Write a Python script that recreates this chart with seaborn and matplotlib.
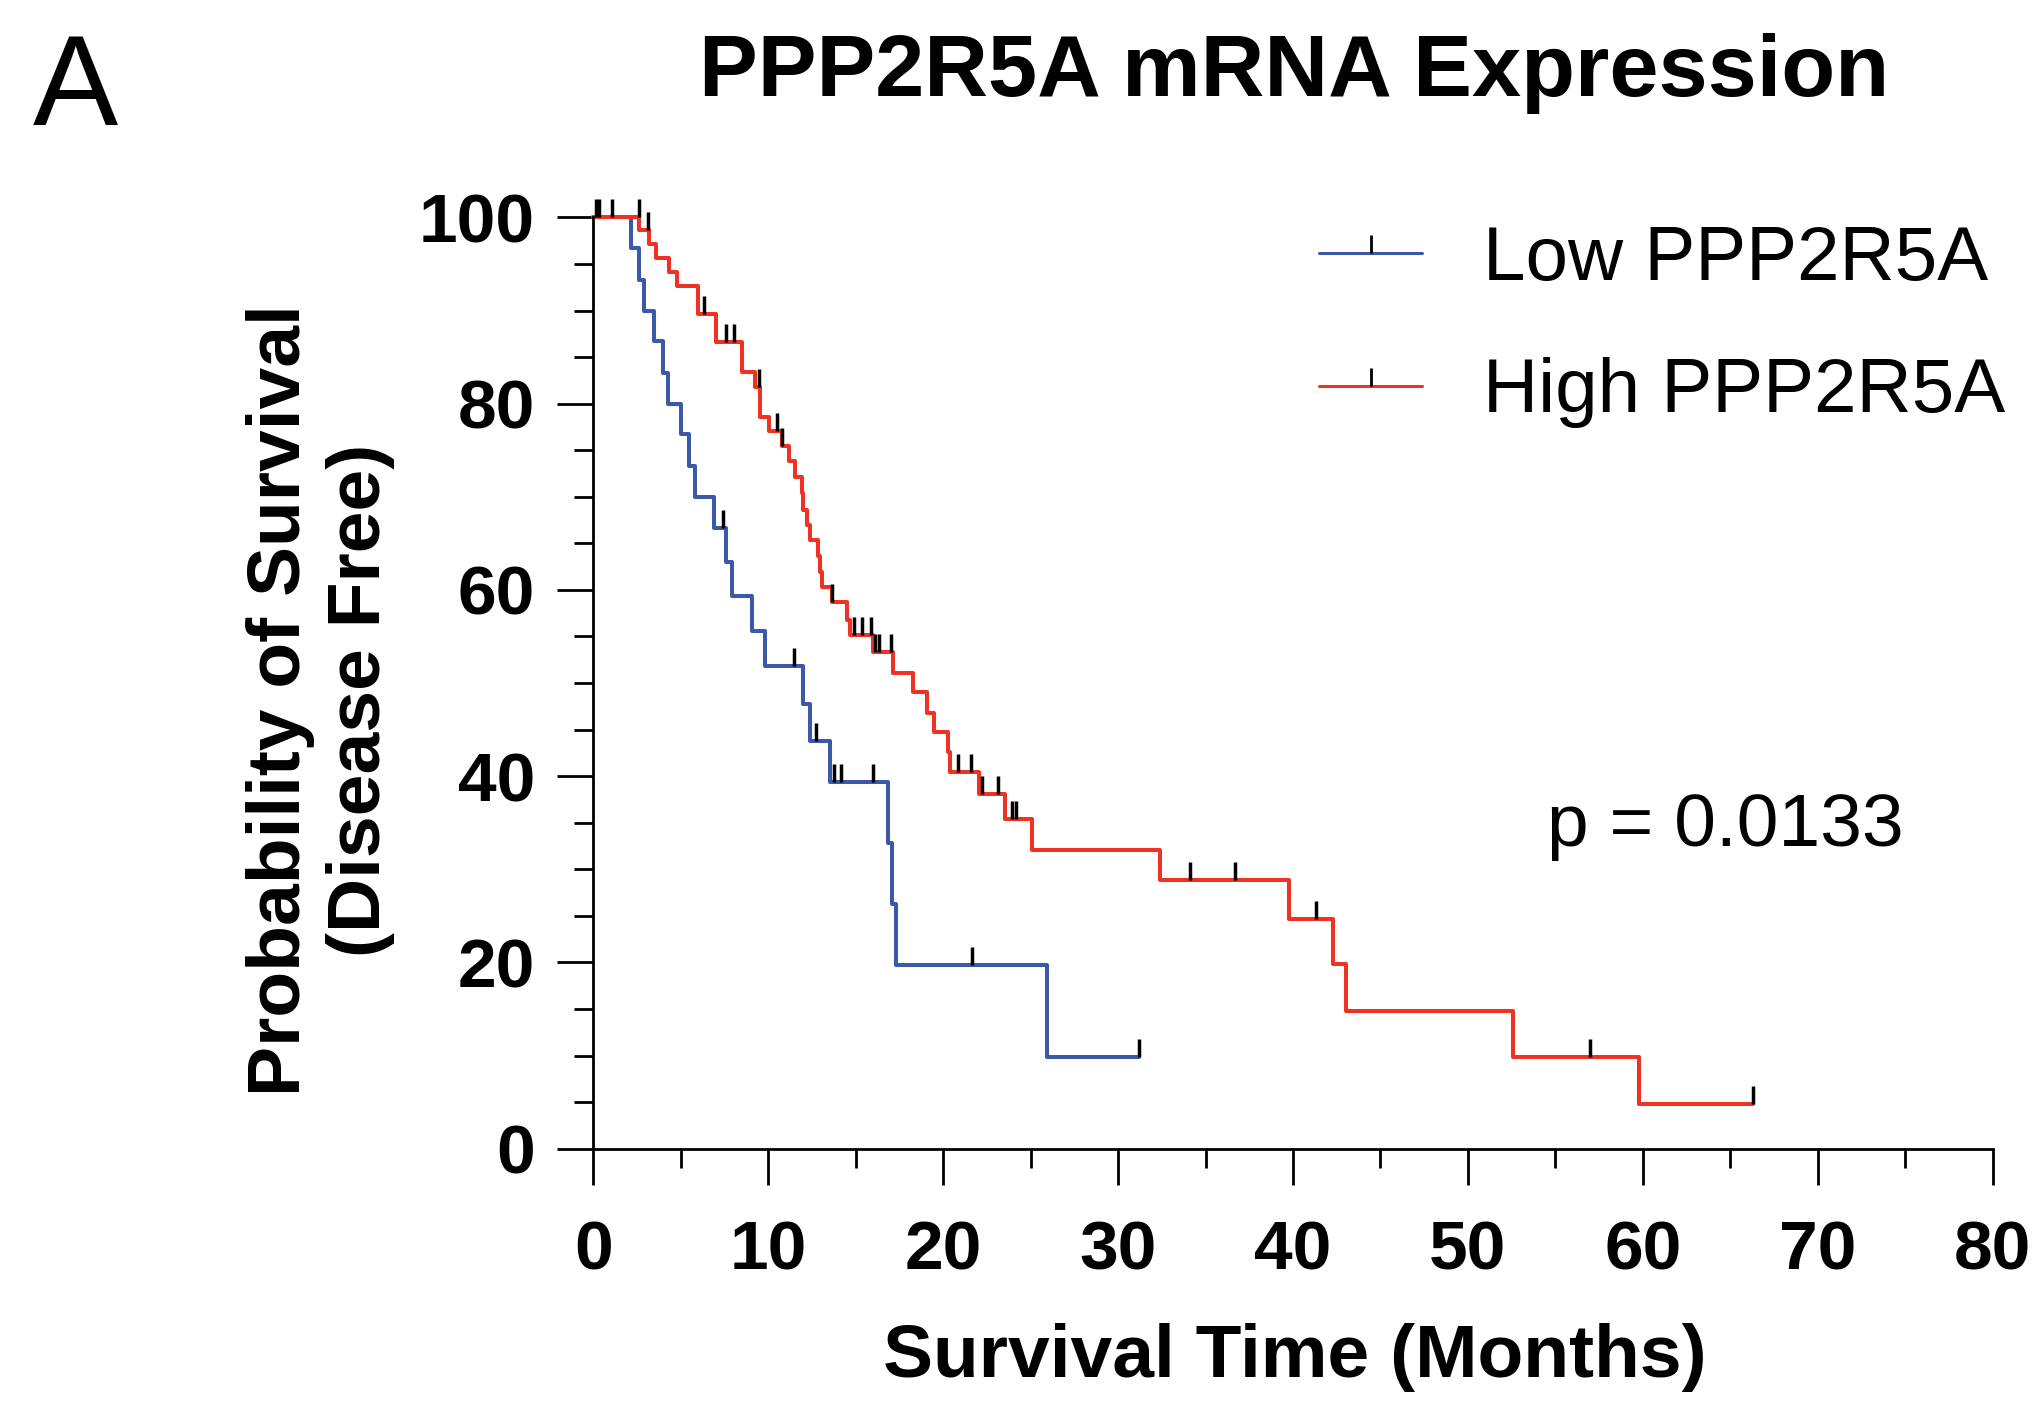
"""
Kaplan-Meier style disease-free survival curves for PPP2R5A mRNA expression.
"""

import matplotlib

matplotlib.use("Agg")
import matplotlib.pyplot as plt
import pandas as pd
import seaborn as sns
from matplotlib.lines import Line2D
from matplotlib.path import Path
from matplotlib.ticker import MultipleLocator

# Step curves (months, percent surviving)
low_time = [0, 2.13, 2.62, 2.89, 3.46, 3.99, 4.24, 4.99, 5.48, 5.81, 6.89, 7.58,
            7.9, 9.09, 9.81, 12.0, 12.39, 13.54, 16.86, 17.06, 17.29, 25.93, 31.2]
low_surv = [100, 96.7, 93.3, 90.0, 86.7, 83.3, 80.0, 76.7, 73.3, 70.0, 66.7, 63.0,
            59.4, 55.6, 51.8, 47.8, 43.8, 39.4, 32.8, 26.3, 19.7, 9.85, 9.85]

high_time = [0, 2.62, 3.19, 3.57, 4.34, 4.76, 6.0, 7.0, 8.47, 9.23, 9.52,
             10.04, 10.77, 11.18, 11.5, 11.91, 11.97, 12.22, 12.36, 12.83, 12.93,
             13.05, 13.66, 14.48, 14.67, 15.96, 17.11, 18.26, 19.06, 19.48, 20.3,
             20.4, 22.05, 23.54, 25.1, 32.4, 39.79, 42.29, 43.03, 52.6, 59.77, 66.3]
high_surv = [100, 98.6, 97.2, 95.6, 94.1, 92.6, 89.6, 86.6, 83.4, 81.8, 78.6,
             77.1, 75.5, 73.8, 72.1, 70.4, 68.6, 67.0, 65.4, 63.6, 61.9,
             60.3, 58.7, 56.8, 55.2, 53.3, 51.1, 49.0, 46.8, 44.7, 42.6,
             40.4, 38.05, 35.4, 32.1, 28.9, 24.7, 19.8, 14.8, 9.8, 4.8, 4.8]

# Censored observations (tick marks)
low_cens_time = [0.15, 1.05, 7.43, 11.47, 12.71, 13.78, 14.14, 15.97, 21.67, 31.2]
low_cens_surv = [100, 100, 66.7, 51.8, 43.8, 39.4, 39.4, 39.4, 19.7, 9.85]

high_cens_time = [0.3, 2.62, 3.13, 6.34, 7.58, 8.04, 9.46, 10.48, 10.8, 13.66,
                  14.9, 15.37, 15.87, 16.08, 16.35, 17.0, 20.87, 21.58, 22.2,
                  23.16, 23.92, 24.17, 34.1, 36.66, 41.3, 56.97, 66.3]
high_cens_surv = [100, 100, 98.6, 89.6, 86.6, 86.6, 81.8, 77.1, 75.5, 58.7,
                  55.2, 55.2, 55.2, 53.3, 53.3, 53.3, 40.4, 40.4, 38.05,
                  38.05, 35.4, 35.4, 28.9, 28.9, 24.7, 9.8, 4.8]

groups = ["Low PPP2R5A", "High PPP2R5A"]
colors = {"Low PPP2R5A": "#3b59a8", "High PPP2R5A": "#ee3224"}
p_value_text = "p = 0.0133"

sns.set_theme(style="ticks")
plt.rcParams["font.family"] = ["Liberation Sans", "DejaVu Sans"]
for key in ["text.color", "axes.labelcolor", "xtick.color", "ytick.color",
            "axes.edgecolor"]:
    plt.rcParams[key] = "black"

curves = pd.concat(
    [
        pd.DataFrame({"time": low_time, "surv": low_surv, "group": groups[0]}),
        pd.DataFrame({"time": high_time, "surv": high_surv, "group": groups[1]}),
    ],
    ignore_index=True,
)

# upward-only censor tick
tick_marker = Path([(0, 0), (0, 1)])

fig = plt.figure(figsize=(20.42, 14.13), dpi=100)
ax = fig.add_axes([0.2906, 0.1871, 0.6852, 0.6590])

sns.lineplot(
    data=curves,
    x="time",
    y="surv",
    hue="group",
    palette=colors,
    estimator=None,
    sort=False,
    drawstyle="steps-post",
    linewidth=2.9,
    legend=False,
    clip_on=False,
    ax=ax,
)

for t, s in [(low_cens_time, low_cens_surv), (high_cens_time, high_cens_surv)]:
    ax.plot(t, s, ls="none", marker=tick_marker, ms=25.5, mew=2.5,
            color="black", clip_on=False, zorder=5)

ax.set_xlim(0, 80)
ax.set_ylim(0, 100)
ax.xaxis.set_major_locator(MultipleLocator(10))
ax.xaxis.set_minor_locator(MultipleLocator(5))
ax.yaxis.set_major_locator(MultipleLocator(20))
ax.yaxis.set_minor_locator(MultipleLocator(5))
sns.despine(ax=ax)
for side in ["left", "bottom"]:
    ax.spines[side].set_linewidth(2.0)
    ax.spines[side].set_color("black")
ax.tick_params(which="major", length=26, width=2.0, color="black",
               labelcolor="black", labelsize=50)
ax.tick_params(axis="x", which="major", pad=25)
ax.tick_params(axis="y", which="major", pad=16)
ax.tick_params(which="minor", length=13.5, width=2.0, color="black")
for lab in ax.get_xticklabels() + ax.get_yticklabels():
    lab.set_fontweight("bold")
ax.set_xlabel("")
ax.set_ylabel("")

fig.text(0.634, 0.0258, "Survival Time (Months)", ha="center", va="baseline",
         fontsize=54, fontweight="bold")
fig.text(0.157, 0.5046, "Probability of Survival\n(Disease Free)", ha="center",
         va="center", rotation=90, fontsize=54, fontweight="bold",
         linespacing=1.2, multialignment="center")
fig.text(0.6336, 0.9318, "PPP2R5A mRNA Expression", ha="center", va="baseline",
         fontsize=63.5, fontweight="bold")
fig.text(0.016, 0.9115, "A", ha="left", va="baseline", fontsize=92,
         family=["Liberation Sans Narrow", "Liberation Sans"])

ax.text(54.55, 32.45, p_value_text, ha="left", va="baseline", fontsize=54)

handles = [
    Line2D([], [], color=colors[g], lw=2.2, marker=tick_marker, ms=25.5,
           mew=2.0, mec="black")
    for g in groups
]
ax.legend(
    handles,
    groups,
    loc="upper left",
    bbox_to_anchor=(0.646, 0.8406),
    bbox_transform=fig.transFigure,
    frameon=False,
    fontsize=55,
    numpoints=1,
    handlelength=1.35,
    handletextpad=0.79,
    labelspacing=0.8,
    borderpad=0,
    borderaxespad=0,
)

fig.savefig("out.png", dpi=100)
plt.close(fig)
